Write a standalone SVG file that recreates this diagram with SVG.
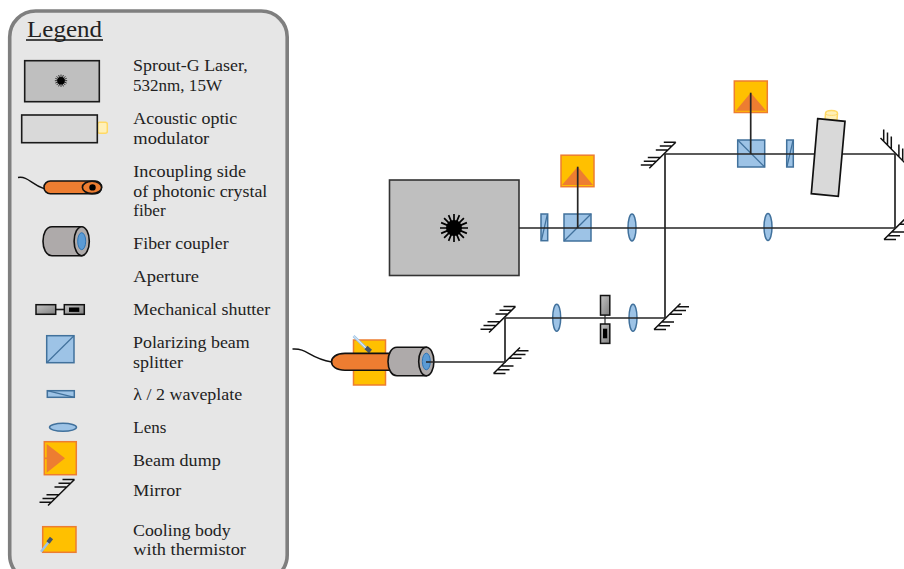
<svg xmlns="http://www.w3.org/2000/svg" width="904" height="569" viewBox="0 0 904 569">
<style>
text{font-family:"Liberation Serif","Times New Roman",serif;font-size:17px;fill:#222}
.beam{fill:none;stroke:#262626;stroke-width:1.7}
.blk{stroke:#1a1a1a;stroke-width:1.6}
.glass{fill:#9dc3e6;stroke:#41719c;stroke-width:1.5}
.thin{fill:none;stroke:#41719c;stroke-width:1.2}
.cool{fill:#ffc000;stroke:#ed7d31;stroke-width:1.5}
.tri{fill:#ed7d31}
.gray{fill:#aeaaaa;stroke:#111;stroke-width:1.6}
.orange{fill:#ed7d31;stroke:#111;stroke-width:1.6}
.fib{fill:none;stroke:#111;stroke-width:1.4}
.conn{fill:#fff0b8;stroke:#ffd966;stroke-width:1.5}
.shut{fill:url(#sg);stroke:#111;stroke-width:1.5}
</style>
<defs>
<linearGradient id="sg" x1="0" y1="0" x2="1" y2="1"><stop offset="0" stop-color="#c4c4c4"/><stop offset="1" stop-color="#7f7f7f"/></linearGradient>
<g id="mirror" fill="none" stroke="#111" stroke-width="1.5">
<path d="M-15.5 14.5L11 -11.5M-1 -11.5H11M-5 -7.7H7M-9 -3.9H3M-17 3.7H-4M-21 7.5H-8M-24 11.3H-12"/>
</g>
<path id="star" fill="none" stroke="#000" stroke-width="1.7" d="M-14 0H14M-12.9-5.4L12.9 5.4M-9.9-9.9L9.9 9.9M-5.4-12.9L5.4 12.9M0-14V14M5.4-12.9L-5.4 12.9M9.9-9.9L-9.9 9.9M12.9-5.4L-12.9 5.4"/>
<ellipse id="lens" class="glass" cx="0" cy="0" rx="4" ry="13.5"/>
</defs>

<g id="legend">
<rect x="9.7" y="11" width="277.5" height="570" rx="26" fill="#e6e6e6" stroke="#7f7f7f" stroke-width="3.6"/>
<text x="27" y="37" style="font-size:24px" textLength="75" lengthAdjust="spacingAndGlyphs">Legend</text>
<line x1="26" y1="40" x2="103" y2="40" stroke="#111" stroke-width="1.5"/>
</g>
<g id="legend-laser">
<rect x="24.7" y="60.7" width="74.6" height="41" fill="#bfbfbf" stroke="#1a1a1a" stroke-width="1.6"/>
<use href="#star" transform="translate(61 80.7) scale(.44)"/><circle cx="61" cy="80.7" r="3.8"/>
<text x="133" y="71" textLength="114.7" lengthAdjust="spacingAndGlyphs">Sprout-G Laser,</text>
<text x="133" y="91" textLength="89" lengthAdjust="spacingAndGlyphs">532nm, 15W</text>
</g>
<g id="legend-aom">
<rect x="97.7" y="122.3" width="9.6" height="11" rx="2" class="conn"/>
<rect x="21.7" y="115" width="75.6" height="27.7" fill="#d9d9d9" stroke="#1a1a1a" stroke-width="1.6"/>
<text x="133.3" y="124" textLength="104" lengthAdjust="spacingAndGlyphs">Acoustic optic</text>
<text x="133.3" y="144" textLength="76" lengthAdjust="spacingAndGlyphs">modulator</text>
</g>
<g id="legend-fiber">
<path class="fib" d="M18 177.5C28 176 31 184 44 188.7"/>
<rect x="44" y="181" width="57.5" height="12.7" rx="6.3" class="orange"/>
<ellipse cx="92" cy="187.4" rx="9.6" ry="6.2" class="orange"/>
<circle cx="92.5" cy="187.4" r="3.2" fill="#000"/>
<text x="133.3" y="176.7" textLength="112.7" lengthAdjust="spacingAndGlyphs">Incoupling side</text>
<text x="133.3" y="196.7" textLength="134" lengthAdjust="spacingAndGlyphs">of photonic crystal</text>
<text x="133.3" y="215.7" textLength="32.3" lengthAdjust="spacingAndGlyphs">fiber</text>
</g>
<g id="legend-coupler">
<path class="gray" d="M81.7 226.7H52C40 226.7 40 255.7 52 255.7H81.7Z"/>
<ellipse cx="81.7" cy="241.2" rx="7.6" ry="14.5" class="gray"/>
<ellipse cx="81.7" cy="241.2" rx="4" ry="8.5" fill="#5b9bd5" stroke="#2e75b6"/>
<text x="133.3" y="248.7" textLength="95.3" lengthAdjust="spacingAndGlyphs">Fiber coupler</text>
</g>
<g id="legend-aperture">
<text x="133.3" y="281.7" textLength="65.7" lengthAdjust="spacingAndGlyphs">Aperture</text>
</g>
<g id="legend-shutter">
<line x1="55.7" y1="309.5" x2="64.3" y2="309.5" class="blk"/>
<rect x="36" y="304.7" width="19.7" height="9.6" class="shut"/>
<rect x="64.3" y="304.7" width="20" height="9.6" class="shut"/>
<rect x="69" y="307.5" width="10.3" height="4.4" fill="#000"/>
<text x="133.3" y="315" textLength="137" lengthAdjust="spacingAndGlyphs">Mechanical shutter</text>
</g>
<g id="legend-pbs">
<rect x="46.7" y="335.7" width="27.3" height="27" class="glass"/>
<line x1="46.7" y1="362.7" x2="74" y2="335.7" class="thin"/>
<text x="133" y="348" textLength="116.7" lengthAdjust="spacingAndGlyphs">Polarizing beam</text>
<text x="133" y="368" textLength="50" lengthAdjust="spacingAndGlyphs">splitter</text>
</g>
<g id="legend-waveplate">
<rect x="47.3" y="390.7" width="27" height="6.6" class="glass"/>
<line x1="47.3" y1="390.7" x2="74.3" y2="397.3" class="thin"/>
<text x="133.3" y="400" textLength="109" lengthAdjust="spacingAndGlyphs">λ / 2 waveplate</text>
</g>
<g id="legend-lens">
<ellipse cx="63" cy="427.3" rx="13.5" ry="4" class="glass"/>
<text x="133.3" y="433" textLength="33" lengthAdjust="spacingAndGlyphs">Lens</text>
</g>
<g id="legend-dump">
<rect x="44.3" y="441.7" width="32" height="33" class="cool"/>
<path class="tri" d="M46.7 444L65 458.3L46.7 472.7Z"/>
<line x1="44.3" y1="458.3" x2="47" y2="458.3" stroke="#ed7d31" stroke-width="1.6"/>
<text x="133" y="466" textLength="87.7" lengthAdjust="spacingAndGlyphs">Beam dump</text>
</g>
<g id="legend-mirror">
<use href="#mirror" transform="translate(63.5 491)"/>
<text x="133.3" y="496" textLength="48" lengthAdjust="spacingAndGlyphs">Mirror</text>
</g>
<g id="legend-cooling">
<rect x="42.7" y="526.7" width="33.3" height="25.6" class="cool"/>
<line x1="41" y1="551.7" x2="49" y2="541.5" stroke="#9dc3e6" stroke-width="2.4"/>
<line x1="48" y1="542.5" x2="51.5" y2="538" stroke="#44546a" stroke-width="4"/>
<text x="133" y="536" textLength="97.7" lengthAdjust="spacingAndGlyphs">Cooling body</text>
<text x="133.3" y="555" textLength="112.7" lengthAdjust="spacingAndGlyphs">with thermistor</text>
</g>

<g id="laser">
<rect x="389.5" y="180" width="129.5" height="95.5" fill="#bfbfbf" stroke="#333" stroke-width="1.6"/>
<use href="#star" transform="translate(454 228)"/><circle cx="454" cy="228" r="8"/>
</g>
<g id="waveplate1"><rect x="541" y="214" width="6.7" height="26.7" class="glass"/><line x1="541.5" y1="240" x2="547.2" y2="215" class="thin"/></g>
<g id="pbs1"><rect x="564" y="214" width="27" height="27" class="glass"/><line x1="564" y1="241" x2="591" y2="214" class="thin"/></g>
<g id="dump1"><rect x="561" y="155.2" width="33" height="31.5" class="cool"/><path class="tri" d="M577.7 166.7L593 185H562Z"/></g>
<g id="lens1"><use href="#lens" transform="translate(632 227.5)"/></g>
<g id="lens2"><use href="#lens" transform="translate(768 227)"/></g>
<g id="pbs2"><rect x="737.7" y="140" width="27" height="27" class="glass"/><line x1="737.7" y1="140" x2="764.7" y2="167" class="thin"/></g>
<g id="dump2"><rect x="734.3" y="81" width="33" height="31.5" class="cool"/><path class="tri" d="M750.7 92.7L766 110.7H735.7Z"/></g>
<g id="waveplate2"><rect x="786.7" y="140" width="6.6" height="27" class="glass"/><line x1="787" y1="166.5" x2="793" y2="140.5" class="thin"/></g>
<g id="lens3"><use href="#lens" transform="translate(633 317.7)"/></g>
<g id="lens4"><use href="#lens" transform="translate(556.7 317.7)"/></g>
<g id="shutter">
<line x1="605" y1="315" x2="605" y2="324" stroke="#555" stroke-width="1.5"/>
<rect x="600.5" y="295.5" width="9.3" height="19.6" class="shut"/>
<rect x="600.5" y="324" width="9.3" height="19.4" class="shut"/>
<rect x="603" y="328.7" width="4.2" height="9.6" fill="#000"/>
</g>
<g id="mirror1"><use href="#mirror" transform="translate(664.8 153.8)"/></g>
<g id="mirror2"><use href="#mirror" transform="translate(895 153.5) rotate(90)"/></g>
<g id="mirror3"><use href="#mirror" transform="translate(895 228) rotate(180)"/></g>
<g id="mirror4"><use href="#mirror" transform="translate(665 318) rotate(180)"/></g>
<g id="mirror5"><use href="#mirror" transform="translate(504.5 318)"/></g>
<g id="mirror6"><use href="#mirror" transform="translate(504.5 362) rotate(180)"/></g>
<g id="fiber-coupling">
<rect x="353.5" y="340" width="32" height="45" class="cool"/>
<line x1="353.5" y1="336" x2="367" y2="349" stroke="#9dc3e6" stroke-width="2.6"/>
<line x1="353.5" y1="336" x2="367" y2="349" stroke="#fff" stroke-width=".8"/>
<line x1="366" y1="347.5" x2="370.5" y2="351.5" stroke="#44546a" stroke-width="4.5"/>
<path class="fib" d="M292.5 349C308 348 308 358 331.7 362"/>
<path class="orange" d="M392 353.4H345C327 353.4 327 370.2 345 370.2H392Z"/>
<path class="gray" d="M426.3 347.3H397C385 347.3 385 375.7 397 375.7H426.3Z"/>
<ellipse cx="426.3" cy="361.5" rx="7.6" ry="14.2" class="gray"/>
<ellipse cx="426.3" cy="361.5" rx="4" ry="8.3" fill="#5b9bd5" stroke="#2e75b6"/>
</g>

<g id="connectors">
<path class="beam" d="M519 228H895V154H665"/>
<path class="beam" d="M665 154V318H505V362H426"/>
<path class="beam" d="M577.7 228V166.7"/>
<path class="beam" d="M750.7 154V92.7"/>
</g>

<g id="aom">
<path class="conn" d="M825.5 113.5C825.5 109.5 837.5 109.5 837.5 113.5L837 120H825Z"/>
<path d="M825.5 113.5C825.5 116 837.5 116 837.5 113.5" fill="none" stroke="#ffd966" stroke-width="1"/>
<path d="M817.7 118.7L845 121.3L838.3 196.3L811.3 193.7Z" fill="#d9d9d9" stroke="#111" stroke-width="1.7"/>
</g>
</svg>
